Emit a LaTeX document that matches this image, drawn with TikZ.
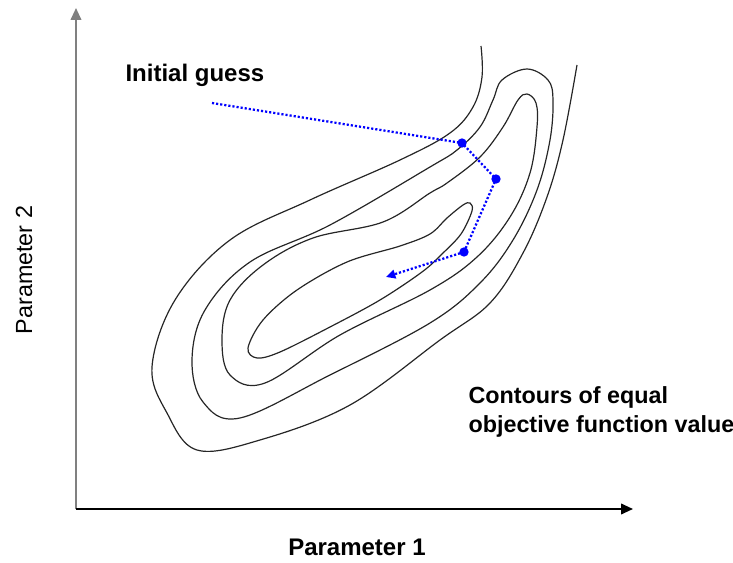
\documentclass[tikz,border=0pt]{standalone}
\usepackage{fontspec}
\setmainfont{Liberation Sans}
\usetikzlibrary{arrows.meta, positioning}

\begin{document}
\begin{tikzpicture}[x=0.75pt, y=-0.75pt, thick]

		\tikzset{
			axis/.style={
					line width=1.4pt, -{Triangle[length=9pt, width=8pt]}
				},
			contour/.style={
					draw=black!85, line width=0.9pt
				},
			guess/.style={
					draw=blue, line width=1.7pt, dash pattern=on 1.6pt off 1.5pt
				},
			stepdot/.style={
					circle, fill=blue, inner sep=0pt, outer sep=0pt, minimum size=7pt
				},
			label/.style={
					font=\bfseries\fontsize{17.5}{21.75}\selectfont, inner sep=0pt
				},
		}
		\useasboundingbox (0,0) rectangle (733,563);

		% axes
		\coordinate (o) at (76,509);
		\coordinate (xend) at (633,509);
		\coordinate (yend) at (76,8);
		\draw[axis, draw=black!50, fill=black] (o)--(yend);
		\draw[axis] (o)--(xend);

		\node[label, font=\bfseries\fontsize{18}{22}\selectfont, anchor=base] (p1) at (357,556){Parameter 1};
		\node[label, font=\fontsize{17.5}{21.75}\selectfont, rotate=90] (p2) at (24,270){Parameter 2};

		% contours of the objective function
		\draw[contour] plot[smooth, tension=0.6] coordinates {
				(481,46) (482,77) (473,107) (450,133) (400,160) (310,200) (230,240)
				(175,300) (152,367) (167,413) (197,450) (260,440) (350,405) (440,340)
				(490,303) (523,253) (547,197) (563,140) (577,65)};
		\draw[contour] plot[smooth cycle, tension=0.6] coordinates {
				(527,69) (548,80) (553,100) (550,140) (537,190) (513,240) (480,283)
				(430,323) (330,375) (240,418) (203,402) (192,360) (205,310) (250,262)
				(330,225) (430,167) (457,150) (480,127) (493,100) (502,80)};
		\draw[contour] plot[smooth cycle, tension=0.6] coordinates {
				(527,94) (536,103) (537,127) (530,173) (510,217) (477,257) (430,290)
				(340,335) (265,383) (230,375) (222,340) (230,300) (263,265) (313,238)
				(383,222) (430,193) (447,183) (480,157) (503,127) (518,100)};
		\draw[contour] plot[smooth cycle, tension=0.55] coordinates {
				(470,203) (472,211) (461,234) (442,254) (422,272) (380,300) (330,327)
				(280,352) (257,358) (248,348) (263,320) (297,290) (347,262) (400,246)
				(430,234) (447,218) (463,205)};

		% search path
		\coordinate (g0) at (212,103);
		\node[stepdot] (g1) at (462,143){};
		\node[stepdot] (g2) at (496,179){};
		\node[stepdot] (g3) at (464,252){};
		\coordinate (g4) at (386,277);

		\draw[guess] (g0)--(g1.center)--(g2.center)--(g3.center);
		\draw[guess, -{Triangle[length=7pt, width=6.5pt]}] (g3.center)--(g4);

		\node[label, font=\bfseries\fontsize{18}{22}\selectfont, anchor=base west] (t1) at (125,82){Initial guess};
		\node[label, anchor=base west, align=left] (t2) at (468,432){Contours of equal\\objective function value};

	\end{tikzpicture}
\end{document}
